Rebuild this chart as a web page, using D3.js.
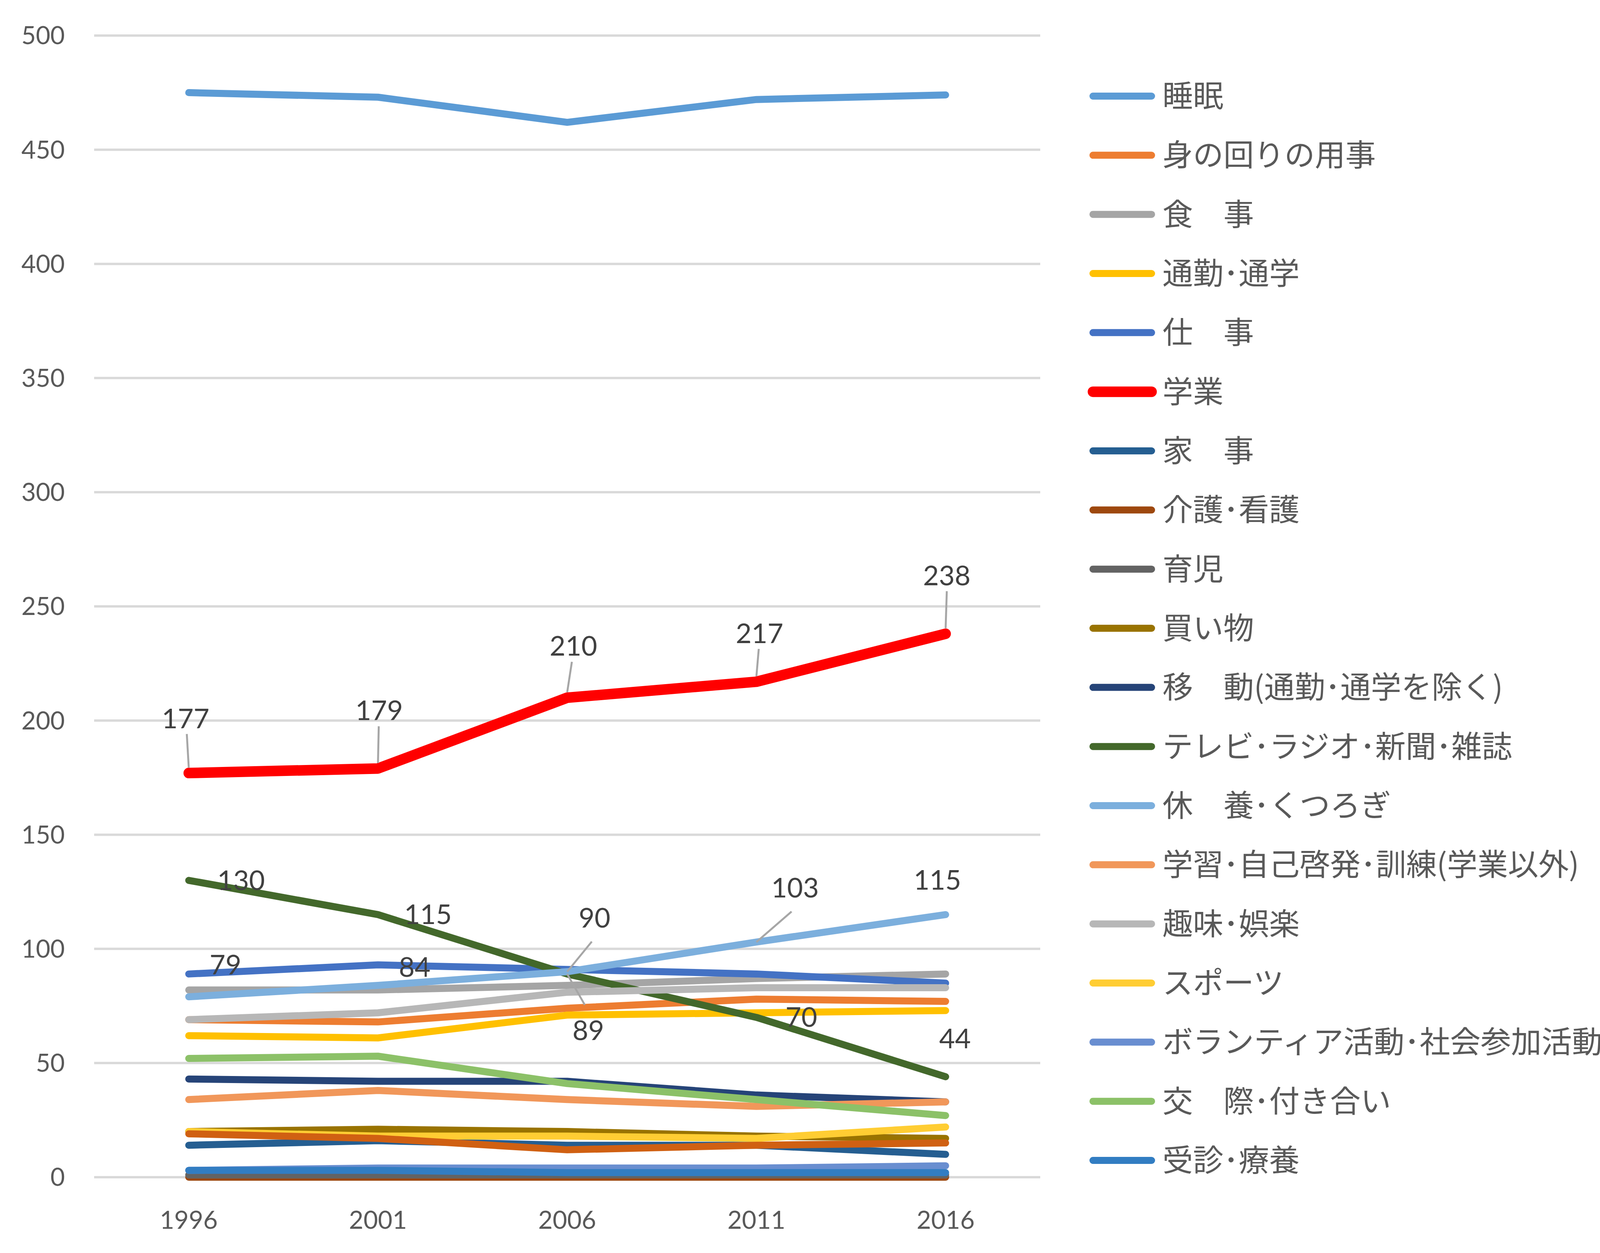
<!DOCTYPE html>
<html>
<head>
<meta charset="utf-8">
<script src="https://cdn.jsdelivr.net/npm/d3@7"></script>
<style>
  html, body { margin: 0; padding: 0; background: #fff; }
  svg { display: block; }
</style>
</head>
<body>
<div id="chart"></div>
<script>
const years = ["1996", "2001", "2006", "2011", "2016"];
const yTicks = [0, 50, 100, 150, 200, 250, 300, 350, 400, 450, 500];

const names = [
  "睡眠", "身の回りの用事", "食　事", "通勤･通学", "仕　事", "学業", "家　事",
  "介護･看護", "育児", "買い物", "移　動(通勤･通学を除く)", "テレビ･ラジオ･新聞･雑誌",
  "休　養･くつろぎ", "学習･自己啓発･訓練(学業以外)", "趣味･娯楽", "スポーツ",
  "ボランティア活動･社会参加活動", "交　際･付き合い", "受診･療養", "その他"
];

// minutes per day, one row per series, same order as names
const minutes = [
  [475, 473, 462, 472, 474],
  [69, 68, 74, 78, 77],
  [82, 82, 84, 87, 89],
  [62, 61, 71, 72, 73],
  [89, 93, 91, 89, 85],
  [177, 179, 210, 217, 238],
  [14, 16, 14, 14, 10],
  [0, 0, 0, 0, 0],
  [1, 1, 1, 1, 1],
  [20, 21, 20, 18, 17],
  [43, 42, 42, 36, 33],
  [130, 115, 89, 70, 44],
  [79, 84, 90, 103, 115],
  [34, 38, 34, 31, 33],
  [69, 72, 81, 83, 83],
  [20, 18, 18, 17, 22],
  [3, 4, 4, 4, 5],
  [52, 53, 41, 34, 27],
  [3, 3, 2, 2, 2],
  [19, 17, 12, 14, 15]
];

const colors = [
  "#5b9bd5", "#ed7d31", "#a5a5a5", "#ffc000", "#4472c4", "#ff0000", "#255e91",
  "#9e480e", "#636363", "#997300", "#264478", "#43682b", "#7cafdd", "#f1975a",
  "#b7b7b7", "#ffcd33", "#698ed0", "#8cc168", "#327dc2", "#d06012"
];

const legendCount = 19;

// data label placement: series index, offsets of label and leader end
const labelSpecs = [
  { s: 5, pos: [[-8, -139, -5, -100], [3, -148, 2, -108], [16, -132, 12, -92], [8, -123, 6, -84], [3, -149, 3, -109]] },
  { s: 11, pos: [[134, 0], [128, 0], [54, 145, 45, 79], [115, 0], [24, -97]] },
  { s: 12, pos: [[94, -82], [94, -47], [70, -138, 63, -77], [99, -139, 90, -78], [-21, -88]] }
];

const width = 4175, height = 3207;
const plot = { left: 241, right: 2663, top: 91, bottom: 3013 };

const svg = d3.select("#chart").append("svg")
  .attr("width", width)
  .attr("height", height);

svg.append("rect").attr("width", width).attr("height", height).attr("fill", "#fff");

const x = d3.scalePoint()
  .domain(years)
  .range([plot.left, plot.right])
  .padding(0.5);

const y = d3.scaleLinear()
  .domain([0, 500])
  .range([plot.bottom, plot.top]);

// gridlines
svg.append("g")
  .selectAll("line")
  .data(yTicks)
  .join("line")
  .attr("x1", plot.left)
  .attr("x2", plot.right)
  .attr("y1", d => y(d))
  .attr("y2", d => y(d))
  .attr("stroke", "#d9d9d9")
  .attr("stroke-width", 6);

// y axis labels
svg.append("g")
  .selectAll("text")
  .data(yTicks)
  .join("text")
  .attr("x", 166)
  .attr("y", d => y(d))
  .attr("dy", "0.35em")
  .attr("text-anchor", "end")
  .attr("font-family", "Lato, 'Open Sans', sans-serif")
  .attr("font-size", 64)
  .attr("fill", "#595959")
  .text(d => d);

// x axis labels
svg.append("g")
  .selectAll("text")
  .data(years)
  .join("text")
  .attr("x", d => x(d))
  .attr("y", 3123)
  .attr("dy", "0.35em")
  .attr("text-anchor", "middle")
  .attr("font-family", "Lato, 'Open Sans', sans-serif")
  .attr("font-size", 64)
  .attr("fill", "#595959")
  .text(d => d);

const line = d3.line()
  .x((d, i) => x(years[i]))
  .y(d => y(d));

svg.append("g")
  .selectAll("path")
  .data(minutes)
  .join("path")
  .attr("d", d => line(d))
  .attr("fill", "none")
  .attr("stroke", (d, i) => colors[i])
  .attr("stroke-width", (d, i) => i === 5 ? 27 : 18)
  .attr("stroke-linecap", "round")
  .attr("stroke-linejoin", "round");

// data labels
const labels = [];
labelSpecs.forEach(spec => {
  minutes[spec.s].forEach((v, i) => {
    const p = spec.pos[i];
    labels.push({ v, cx: x(years[i]), cy: y(v), dx: p[0], dy: p[1], lead: p.length > 2 ? [p[2], p[3]] : null, red: spec.s === 5 });
  });
});

const lg = svg.append("g");
lg.selectAll("line")
  .data(labels.filter(d => d.lead))
  .join("line")
  .attr("x1", d => d.cx)
  .attr("y1", d => d.cy + (d.red ? -14 : 0))
  .attr("x2", d => d.cx + d.lead[0])
  .attr("y2", d => d.cy + d.lead[1])
  .attr("stroke", "#a6a6a6")
  .attr("stroke-width", 5);

lg.selectAll("text")
  .data(labels)
  .join("text")
  .attr("x", d => d.cx + d.dx)
  .attr("y", d => d.cy + d.dy)
  .attr("dy", "0.35em")
  .attr("text-anchor", "middle")
  .attr("font-family", "Lato, 'Open Sans', sans-serif")
  .attr("font-size", 70)
  .attr("fill", "#404040")
  .text(d => d.v);

// legend
const legendItems = names.slice(0, legendCount).map((n, i) => ({ n, i }));
const legendY = d3.scalePoint()
  .domain(d3.range(legendCount))
  .range([246, 2970]);

const leg = svg.append("g")
  .selectAll("g")
  .data(legendItems)
  .join("g")
  .attr("transform", d => `translate(0,${legendY(d.i)})`);

leg.append("line")
  .attr("x1", 2798)
  .attr("x2", 2948)
  .attr("stroke", d => colors[d.i])
  .attr("stroke-width", d => d.i === 5 ? 27 : 18)
  .attr("stroke-linecap", "round");

leg.append("text")
  .attr("x", 2976)
  .attr("dy", "0.36em")
  .attr("font-family", "'Noto Sans CJK JP', sans-serif")
  .attr("font-size", 78)
  .attr("fill", "#595959")
  .text(d => d.n);
</script>
</body>
</html>
